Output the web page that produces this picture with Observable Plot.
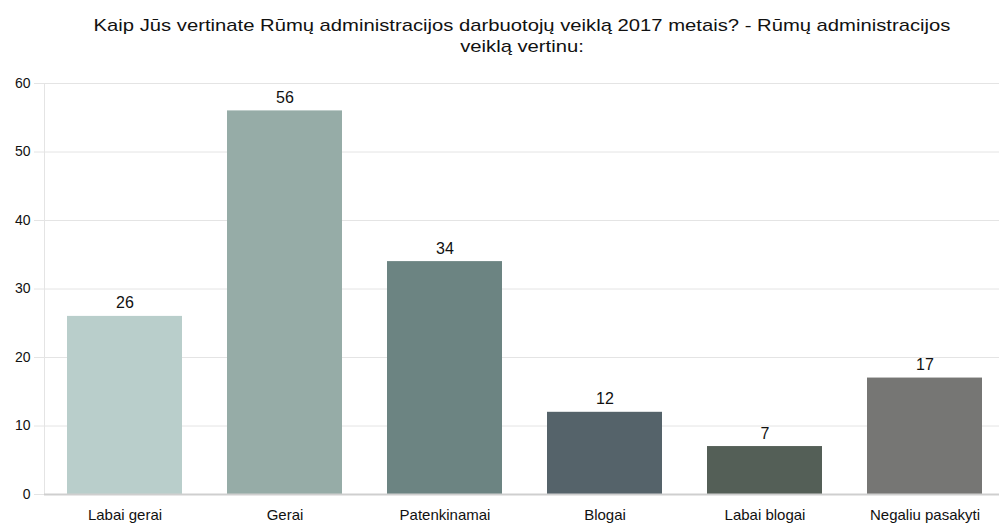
<!DOCTYPE html>
<html>
<head>
<meta charset="utf-8">
<script src="https://cdn.jsdelivr.net/npm/d3@7"></script>
<script src="https://cdn.jsdelivr.net/npm/@observablehq/plot@0.6"></script>
<style>
  html, body { margin: 0; padding: 0; background: #fff; }
  body { width: 999px; height: 525px; overflow: hidden; font-family: "Liberation Sans", Arial, sans-serif; }
  #title { height: 70px; box-sizing: border-box; padding-top: 15px; padding-left: 44px; text-align: center; color: #111; }
  #title span { display: inline-block; font-size: 17px; line-height: 21px; transform: scaleX(1.19); transform-origin: center; }
  #chart svg { display: block; overflow: visible; }
</style>
</head>
<body>
<div id="title"><span>Kaip Jūs vertinate Rūmų administracijos darbuotojų veiklą 2017 metais? - Rūmų administracijos<br>veiklą vertinu:</span></div>
<div id="chart"></div>
<script>
const categories = ["Labai gerai", "Gerai", "Patenkinamai", "Blogai", "Labai blogai", "Negaliu pasakyti"];
const values = [26, 56, 34, 12, 7, 17];
const colors = ["#b9cecb", "#96aca7", "#6c8482", "#55636a", "#545f57", "#767674"];
const yTicks = [0, 10, 20, 30, 40, 50, 60];

const data = categories.map((c, i) => ({category: c, value: values[i]}));

const chart = Plot.plot({
  width: 999,
  height: 455,
  marginTop: 13,
  marginBottom: 31,
  marginLeft: 44,
  marginRight: 0,
  style: {fontFamily: "'Liberation Sans', Arial, sans-serif", background: "#fff", color: "#111"},
  x: {domain: categories, range: [43.3, 1005.7], paddingInner: 0.28, paddingOuter: 0.14, label: null},
  y: {domain: [0, 60], label: null},
  color: {domain: categories, range: colors},
  marks: [
    Plot.gridY(yTicks, {stroke: "#e4e4e4", strokeOpacity: 1}),
    Plot.frame({anchor: "left", stroke: "#e4e4e4", strokeOpacity: 1}),
    Plot.axisY(yTicks, {tickSize: 10, tickPadding: 4, fontSize: 14, stroke: "#e4e4e4", strokeOpacity: 1, color: "#111", label: null}),
    Plot.barY(data, {x: "category", y: "value", fill: "category"}),
    Plot.ruleY([0], {stroke: "#cfcfcf", strokeWidth: 2}),
    Plot.text(data, {x: "category", y: "value", text: d => String(d.value), lineAnchor: "bottom", dy: -8, fontSize: 16, fill: "#111"}),
    Plot.axisX({tickSize: 0, tickPadding: 15, fontSize: 15, color: "#111", label: null})
  ]
});
document.getElementById("chart").appendChild(chart);
</script>
</body>
</html>
